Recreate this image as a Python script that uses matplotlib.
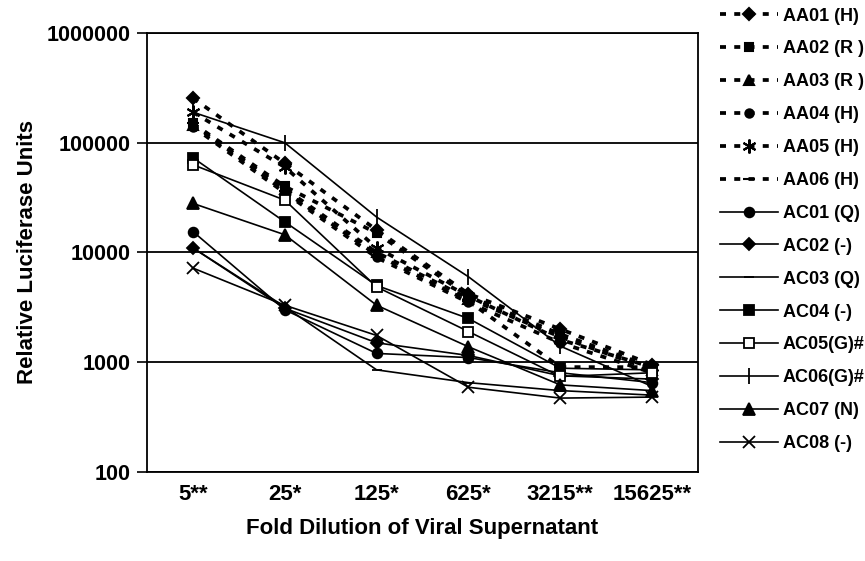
import numpy as np
import matplotlib
matplotlib.use("Agg")
import matplotlib.pyplot as plt

plt.rcParams['font.family'] = ['Liberation Sans', 'DejaVu Sans']
plt.rcParams['font.weight'] = 'bold'

# fold dilutions on the x axis
dilutions = ['5**', '25*', '125*', '625*', '3215**', '15625**']

# AA series (dashed lines)
aa01 = [255000, 65000, 16000, 4200, 2000, 950]
aa02 = [150000, 40000, 15000, 4000, 1800, 900]
aa03 = [145000, 38000, 10000, 3800, 1700, 850]
aa04 = [140000, 35000, 9000, 3500, 1500, 800]
aa05 = [190000, 60000, 11000, 4000, 1600, 900]
aa06 = [150000, 36000, 9500, 3600, 900, 900]

# AC series (solid lines)
ac01 = [15500, 3000, 1200, 1100, 800, 650]
ac02 = [11000, 3100, 1500, 1150, 750, 700]
ac03 = [11000, 3200, 850, 650, 550, 500]
ac04 = [73000, 19000, 5000, 2500, 880, 850]
ac05 = [63000, 30000, 4850, 1900, 740, 800]
ac06 = [190000, 100000, 21000, 6000, 1400, 600]
ac07 = [28000, 14500, 3300, 1380, 620, 550]
ac08 = [7200, 3300, 1750, 590, 470, 480]

names = ['AA01 (H)', 'AA02 (R )', 'AA03 (R )', 'AA04 (H)', 'AA05 (H)', 'AA06 (H)',
         'AC01 (Q)', 'AC02 (-)', 'AC03 (Q)', 'AC04 (-)', 'AC05(G)#', 'AC06(G)#',
         'AC07 (N)', 'AC08 (-)']
series = [aa01, aa02, aa03, aa04, aa05, aa06,
          ac01, ac02, ac03, ac04, ac05, ac06, ac07, ac08]

# marker style per series: (marker, size, facecolor)
styles = [('D', 6, 'k'), ('s', 6, 'k'), ('^', 7, 'k'), ('o', 6, 'k'),
          ((6, 2, 0), 10, 'k'), ('_', 9, 'k'),
          ('o', 7, 'k'), ('D', 6, 'k'), ('_', 7, 'k'), ('s', 7, 'k'),
          ('s', 7, 'white'), ('|', 12, 'k'), ('^', 8, 'k'), ('x', 8, 'k')]

fig = plt.figure(figsize=(8.65, 5.61), dpi=100)
ax = fig.add_axes([0.170, 0.159, 0.637, 0.782])

x = np.arange(len(dilutions))
for i, (name, vals) in enumerate(zip(names, series)):
    m, ms, fc = styles[i]
    if i < 6:
        ax.plot(x, vals, color='k', lw=2.7, linestyle=(0, (1.6, 2.2)),
                marker=m, ms=ms, mfc=fc, mec='k', mew=1.5, label=name)
    else:
        ax.plot(x, vals, color='k', lw=1.2, linestyle='-',
                marker=m, ms=ms, mfc=fc, mec='k', mew=1.3, label=name)

ax.set_yscale('log')
ax.set_ylim(100, 1000000)
ax.set_xlim(-0.5, len(dilutions) - 0.5)
ax.set_yticks([100, 1000, 10000, 100000, 1000000])
ax.set_yticklabels(['100', '1000', '10000', '100000', '1000000'])
ax.yaxis.set_minor_locator(matplotlib.ticker.NullLocator())
ax.set_xticks(x)
ax.set_xticklabels(dilutions)
ax.tick_params(axis='y', direction='out', length=7, width=1.2, labelsize=15.5, pad=5)
ax.tick_params(axis='x', length=0, labelsize=16, pad=9)
ax.grid(axis='y', which='major', color='k', lw=1.3)
ax.set_axisbelow(True)
for s in ax.spines.values():
    s.set_linewidth(1.3)

ax.set_xlabel('Fold Dilution of Viral Supernatant', fontsize=16, fontweight='bold', labelpad=9)
ax.set_ylabel('Relative Luciferase Units', fontsize=16, fontweight='bold', labelpad=6)

fig.legend(loc='upper left', bbox_to_anchor=(0.828, 0.993), frameon=False,
           fontsize=13, handlelength=3.2, labelspacing=0.88, handletextpad=0.28,
           borderaxespad=0.0, borderpad=0.2)

fig.savefig('out.png', dpi=100)
